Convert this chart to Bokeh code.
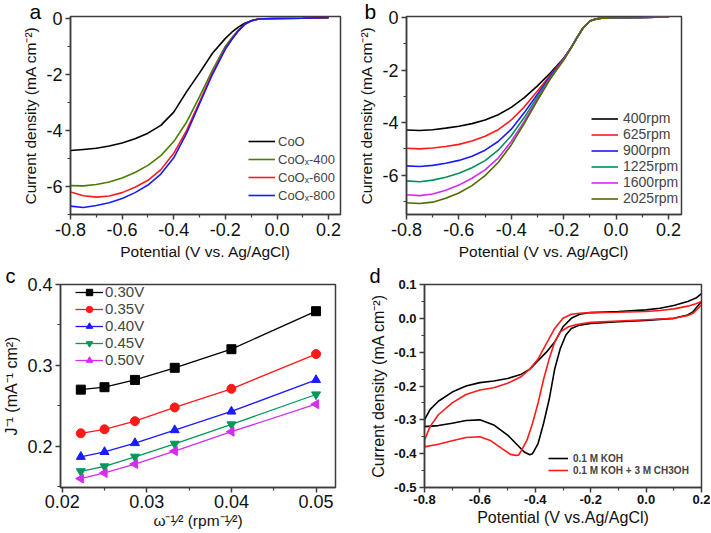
from math import pi
from bokeh.plotting import figure
from bokeh.layouts import column, row
from bokeh.models import Range1d, FixedTicker, PrintfTickFormatter, Legend, LegendItem
from bokeh.embed import file_html
from bokeh.resources import INLINE

FONT = "Liberation Sans"
AX = "#3c3c3c"

# ---------------- data ----------------
a_pot = [-0.8, -0.75, -0.7, -0.65, -0.6, -0.55, -0.5, -0.45, -0.4, -0.35, -0.3, -0.25,
         -0.2, -0.175, -0.15, -0.125, -0.1, -0.075, -0.05, 0.0, 0.1, 0.2]
a_coo = [-4.72, -4.68, -4.64, -4.56, -4.45, -4.30, -4.10, -3.82, -3.35, -2.62, -1.95, -1.25,
         -0.72, -0.50, -0.32, -0.18, -0.09, -0.04, -0.02, -0.01, 0.0, 0.02]
a_400 = [-5.97, -5.98, -5.93, -5.84, -5.70, -5.50, -5.25, -4.90, -4.40, -3.70, -2.80, -1.85,
         -1.00, -0.70, -0.42, -0.22, -0.10, -0.04, -0.02, -0.01, 0.0, 0.02]
a_600 = [-6.20, -6.33, -6.38, -6.34, -6.22, -6.03, -5.78, -5.40, -4.82, -4.00, -2.98, -1.95,
         -1.08, -0.75, -0.45, -0.22, -0.09, -0.04, -0.02, -0.01, 0.0, 0.03]
a_800 = [-6.70, -6.75, -6.68, -6.58, -6.43, -6.22, -5.95, -5.56, -4.98, -4.10, -3.05, -2.00,
         -1.10, -0.76, -0.46, -0.22, -0.09, -0.04, -0.02, -0.01, 0.0, 0.03]
a_labels = ["CoO", "CoO\u2093-400", "CoO\u2093-600", "CoO\u2093-800"]
a_colors = ["#000000", "#4b7d00", "#ff1a1a", "#1a1aff"]

b_pot = a_pot
b_400 = [-4.28, -4.30, -4.27, -4.21, -4.14, -4.04, -3.90, -3.70, -3.42, -3.05, -2.60, -2.10,
         -1.55, -1.20, -0.78, -0.38, -0.13, -0.05, -0.02, -0.01, 0.0, 0.02]
b_625 = [-4.98, -5.00, -4.97, -4.91, -4.83, -4.70, -4.52, -4.27, -3.90, -3.40, -2.80, -2.18,
         -1.57, -1.20, -0.78, -0.38, -0.13, -0.05, -0.02, -0.01, 0.0, 0.02]
b_900 = [-5.65, -5.67, -5.63, -5.55, -5.44, -5.28, -5.05, -4.72, -4.25, -3.62, -2.92, -2.22,
         -1.58, -1.20, -0.78, -0.38, -0.13, -0.05, -0.02, -0.01, 0.0, 0.02]
b_1225 = [-6.22, -6.25, -6.19, -6.08, -5.93, -5.72, -5.45, -5.05, -4.50, -3.80, -3.02, -2.27,
          -1.60, -1.21, -0.78, -0.38, -0.13, -0.05, -0.02, -0.01, 0.0, 0.02]
b_1600 = [-6.75, -6.78, -6.72, -6.58, -6.38, -6.12, -5.80, -5.35, -4.72, -3.95, -3.10, -2.30,
          -1.60, -1.21, -0.78, -0.38, -0.13, -0.05, -0.02, -0.01, 0.0, 0.02]
b_2025 = [-7.05, -7.08, -7.03, -6.88, -6.68, -6.40, -6.02, -5.52, -4.85, -4.03, -3.15, -2.32,
          -1.62, -1.22, -0.79, -0.38, -0.13, -0.05, -0.02, -0.01, 0.0, 0.02]
b_labels = ["400rpm", "625rpm", "900rpm", "1225rpm", "1600rpm", "2025rpm"]
b_colors = ["#000000", "#ff1a1a", "#1a1aff", "#00905a", "#d42cf0", "#4f6b00"]

c_x = [0.0222, 0.025, 0.0286, 0.0333, 0.04, 0.05]
c_030 = [0.270, 0.273, 0.282, 0.297, 0.320, 0.367]
c_035 = [0.216, 0.221, 0.231, 0.248, 0.271, 0.314]
c_040 = [0.187, 0.193, 0.204, 0.220, 0.243, 0.282]
c_045 = [0.169, 0.175, 0.187, 0.203, 0.227, 0.264]
c_050 = [0.160, 0.167, 0.178, 0.194, 0.218, 0.252]
c_labels = ["0.30V", "0.35V", "0.40V", "0.45V", "0.50V"]
c_colors = ["#000000", "#ff1a1a", "#1a1aff", "#00995a", "#d42cf0"]
c_markers = ["square", "circle", "triangle", "inverted_triangle", "triangle"]
c_angles = [0, 0, 0, 0, pi / 2]

d_koh_x = [0.2, 0.17, 0.15, 0.1, 0.05, 0.0, -0.1, -0.2, -0.24, -0.27, -0.29, -0.31, -0.33,
           -0.35, -0.37, -0.39, -0.41, -0.42, -0.44, -0.47, -0.5, -0.55, -0.6, -0.65, -0.7,
           -0.75, -0.8,
           -0.8, -0.78, -0.75, -0.7, -0.65, -0.6, -0.55, -0.5, -0.45, -0.42, -0.39, -0.36,
           -0.33, -0.3, -0.27, -0.24, -0.2, -0.1, 0.0, 0.05, 0.1, 0.15, 0.18, 0.2]
d_koh_y = [0.05, 0.02, 0.01, 0.0, -0.003, -0.006, -0.01, -0.015, -0.02, -0.03, -0.05, -0.09,
           -0.15, -0.24, -0.31, -0.37, -0.4, -0.403, -0.395, -0.37, -0.345, -0.315, -0.3,
           -0.302, -0.31, -0.317, -0.32,
           -0.3, -0.27, -0.245, -0.218, -0.2, -0.19, -0.185, -0.178, -0.165, -0.15, -0.125,
           -0.1, -0.07, -0.025, 0.0, 0.012, 0.017, 0.02, 0.025, 0.03, 0.038, 0.05, 0.06, 0.073]
d_meoh_x = [0.2, 0.17, 0.15, 0.1, 0.0, -0.1, -0.2, -0.25, -0.28, -0.31, -0.33, -0.35, -0.37,
            -0.39, -0.41, -0.43, -0.45, -0.46, -0.47, -0.49, -0.52, -0.56, -0.6, -0.65, -0.7,
            -0.75, -0.8,
            -0.8, -0.78, -0.75, -0.7, -0.65, -0.6, -0.55, -0.5, -0.45, -0.42, -0.39, -0.36,
            -0.33, -0.3, -0.27, -0.24, -0.2, -0.1, 0.0, 0.05, 0.1, 0.15, 0.18, 0.2]
d_meoh_y = [0.04, 0.015, 0.008, 0.0, -0.004, -0.008, -0.012, -0.018, -0.025, -0.04, -0.07,
            -0.12, -0.18, -0.25, -0.31, -0.36, -0.39, -0.404, -0.405, -0.402, -0.385, -0.362,
            -0.35, -0.352, -0.362, -0.372, -0.38,
            -0.36, -0.32, -0.285, -0.25, -0.225, -0.212, -0.205, -0.192, -0.172, -0.15, -0.12,
            -0.075, -0.03, 0.0, 0.012, 0.015, 0.017, 0.018, 0.02, 0.023, 0.028, 0.036, 0.043,
            0.05]
d_labels = ["0.1 M KOH", "0.1 M KOH + 3 M CH3OH"]
d_colors = ["#000000", "#ff1a1a"]


def make_fig(w, h, xr, yr, bl, br, bt, bb, tick_size):
    p = figure(width=w, height=h, x_range=Range1d(*xr), y_range=Range1d(*yr),
               output_backend="svg", toolbar_location=None,
               min_border_left=bl, min_border_right=br, min_border_top=bt,
               min_border_bottom=bb)
    p.grid.visible = False
    p.outline_line_color = AX
    p.outline_line_width = 1.5
    for ax in (p.xaxis[0], p.yaxis[0]):
        ax.axis_line_color = AX
        ax.axis_line_width = 1.5
        ax.major_tick_line_color = AX
        ax.major_tick_line_width = 1.5
        ax.minor_tick_line_color = AX
        ax.minor_tick_line_width = 1.2
        ax.major_tick_out = 5
        ax.major_tick_in = 0
        ax.minor_tick_out = 3
        ax.minor_tick_in = 0
        ax.major_label_text_font = FONT
        ax.major_label_text_font_size = tick_size
        ax.major_label_text_color = "#111111"
        ax.major_label_standoff = 3
        ax.axis_label_text_font = FONT
        ax.axis_label_text_font_style = "normal"
        ax.axis_label_text_color = "#111111"
        ax.axis_label_standoff = 4
    return p


def letter(p, txt, offset, standoff, size):
    p.title.text = txt
    p.title.align = "left"
    p.title.offset = offset
    p.title.standoff = standoff
    p.title.text_font = FONT
    p.title.text_font_size = size
    p.title.text_font_style = "normal"
    p.title.text_color = "#000000"


def legend(p, items, loc, **kw):
    lg = Legend(items=items, location=loc, border_line_color=None, background_fill_alpha=0,
                padding=0, margin=0, label_text_font=FONT, **kw)
    p.add_layout(lg)


pot_ticks = [-0.8, -0.6, -0.4, -0.2, 0.0, 0.2]
pot_minor = [-0.7, -0.5, -0.3, -0.1, 0.1]

# ---------------- panel a ----------------
pa = make_fig(355, 262, (-0.8, 0.246), (-7.0, 0.06), 70, 15, 16, 46, "18px")
pa.xaxis.ticker = FixedTicker(ticks=pot_ticks, minor_ticks=pot_minor)
pa.xaxis.formatter = PrintfTickFormatter(format="%.1f")
pa.yaxis.ticker = FixedTicker(ticks=[-6, -4, -2, 0], minor_ticks=[-7, -5, -3, -1])
pa.yaxis.formatter = PrintfTickFormatter(format="%d")
pa.xaxis.axis_label = "Potential (V vs. Ag/AgCl)"
pa.yaxis.axis_label = "Current density (mA cm\u207b\u00b2)"
pa.xaxis.axis_label_text_font_size = "15.5px"
pa.yaxis.axis_label_text_font_size = "15.5px"
items = []
for ys, lab, col in zip([a_coo, a_400, a_600, a_800], a_labels, a_colors):
    r = pa.line(a_pot, ys, line_color=col, line_width=1.6)
    items.append(LegendItem(label=lab, renderers=[r]))
legend(pa, items, (178, 11), spacing=2, glyph_width=27, glyph_height=16, label_height=16,
       label_standoff=3, label_text_font_size="13px")
letter(pa, "a", -41, -12, "21px")

# ---------------- panel b ----------------
pb = make_fig(355, 262, (-0.8, 0.25), (-7.5, 0.04), 50, 29, 14, 46, "18px")
pb.xaxis.ticker = FixedTicker(ticks=pot_ticks, minor_ticks=pot_minor)
pb.xaxis.formatter = PrintfTickFormatter(format="%.1f")
pb.yaxis.ticker = FixedTicker(ticks=[-6, -4, -2, 0], minor_ticks=[-7, -5, -3, -1])
pb.yaxis.formatter = PrintfTickFormatter(format="%d")
pb.xaxis.axis_label = "Potential (V vs. Ag/AgCl)"
pb.yaxis.axis_label = "Current density (mA cm\u207b\u00b2)"
pb.xaxis.axis_label_text_font_size = "15.5px"
pb.yaxis.axis_label_text_font_size = "15.5px"
items = []
for ys, lab, col in zip([b_400, b_625, b_900, b_1225, b_1600, b_2025], b_labels, b_colors):
    r = pb.line(b_pot, ys, line_color=col, line_width=1.6)
    items.append(LegendItem(label=lab, renderers=[r]))
legend(pb, items, (185, 8), spacing=0, glyph_width=27, glyph_height=15, label_height=15,
       label_standoff=5, label_text_font_size="14px")
letter(pb, "b", -42, -12, "21px")

# ---------------- panel c ----------------
pc = make_fig(355, 270, (0.0198, 0.0523), (0.149, 0.4), 55, 20, 20, 45, "18px")
pc.xaxis.ticker = FixedTicker(ticks=[0.02, 0.03, 0.04, 0.05], minor_ticks=[0.025, 0.035, 0.045])
pc.xaxis.formatter = PrintfTickFormatter(format="%.2f")
pc.yaxis.ticker = FixedTicker(ticks=[0.2, 0.3, 0.4], minor_ticks=[0.15, 0.25, 0.35])
pc.yaxis.formatter = PrintfTickFormatter(format="%.1f")
pc.xaxis.axis_label = "\u03c9\u207b\u00b9\u2044\u00b2 (rpm\u207b\u00b9\u2044\u00b2)"
pc.yaxis.axis_label = "J\u207b\u00b9 (mA\u207b\u00b9 cm\u00b2)"
pc.xaxis.axis_label_text_font_size = "15.5px"
pc.yaxis.axis_label_text_font_size = "16px"
pc.xaxis.axis_label_standoff = 1
pc.xaxis.major_label_standoff = 2
items = []
for ys, lab, col, mk, ang in zip([c_030, c_035, c_040, c_045, c_050], c_labels, c_colors,
                                 c_markers, c_angles):
    rl = pc.line(c_x, ys, line_color=col, line_width=1.3)
    rm = pc.scatter(c_x, ys, marker=mk, size=9, angle=ang, fill_color=col, line_color=col)
    items.append(LegendItem(label=lab, renderers=[rl, rm]))
legend(pc, items, (15, 119), spacing=0, glyph_width=28, glyph_height=16, label_height=16,
       label_standoff=2, label_text_font_size="15px")
letter(pc, "c", -55, -4, "20px")

# ---------------- panel d ----------------
pd = make_fig(355, 270, (-0.8, 0.2), (-0.5, 0.1), 69, 9, 22, 44, "13px")
pd.xaxis.ticker = FixedTicker(ticks=pot_ticks, minor_ticks=pot_minor)
pd.xaxis.formatter = PrintfTickFormatter(format="%.1f")
pd.yaxis.ticker = FixedTicker(ticks=[-0.5, -0.4, -0.3, -0.2, -0.1, 0.0, 0.1],
                              minor_ticks=[-0.45, -0.35, -0.25, -0.15, -0.05, 0.05])
pd.yaxis.formatter = PrintfTickFormatter(format="%.1f")
pd.xaxis.axis_label = "Potential (V vs.Ag/AgCl)"
pd.yaxis.axis_label = "Current density (mA cm\u207b\u00b2)"
pd.xaxis.axis_label_text_font_size = "16px"
pd.yaxis.axis_label_text_font_size = "16px"
pd.xaxis.major_label_text_font_style = "bold"
pd.yaxis.major_label_text_font_style = "bold"
pd.xaxis.major_label_standoff = 2
pd.xaxis.axis_label_standoff = 2
items = []
for xs, ys, lab, col in zip([d_koh_x, d_meoh_x], [d_koh_y, d_meoh_y], d_labels, d_colors):
    r = pd.line(xs, ys, line_color=col, line_width=1.6)
    items.append(LegendItem(label=lab, renderers=[r]))
legend(pd, items, (124, 11), spacing=0, glyph_width=20, glyph_height=12, label_height=12,
       label_standoff=5, label_text_font_size="10px", label_text_font_style="bold")
letter(pd, "d", -55, -4, "20px")

layout = column(row(pa, pb), row(pc, pd))
open("out.html", "w").write(file_html(layout, INLINE))
